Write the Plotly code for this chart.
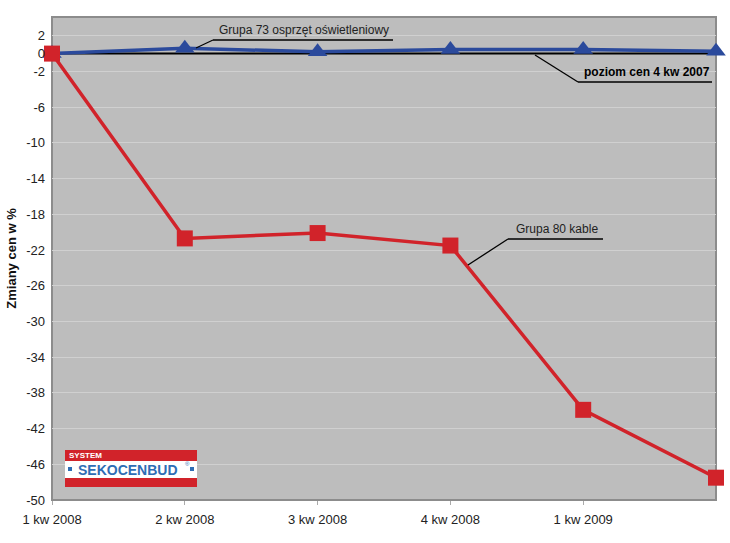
import plotly.graph_objects as go

categories = ["1 kw 2008", "2 kw 2008", "3 kw 2008", "4 kw 2008", "1 kw 2009", "2 kw 2009"]
tick_labels = ["1 kw 2008", "2 kw 2008", "3 kw 2008", "4 kw 2008", "1 kw 2009"]
grupa73 = [0, 0.6, 0.2, 0.45, 0.45, 0.25]
grupa80 = [0, -20.7, -20.1, -21.5, -39.9, -47.5]
poziom = [0, 0, 0, 0, 0, 0]
y_ticks = [2, 0] + list(range(-2, -51, -4))

W, H = 730, 543
L, R, T, B = 52, 14, 17, 43
PW, PH = W - L - R, H - T - B

def px(x):
    return (x - L) / PW

def py(y):
    return (H - B - y) / PH

xs = list(range(len(categories)))
FONT = "Liberation Sans, Arial, sans-serif"

fig = go.Figure()
fig.add_trace(go.Scatter(x=xs, y=poziom, mode="lines",
                         line=dict(color="black", width=2), hoverinfo="skip", showlegend=False))
fig.add_trace(go.Scatter(x=xs, y=grupa73, mode="lines+markers", name="Grupa 73",
                         line=dict(color="#2b4a9c", width=3.5),
                         marker=dict(symbol="triangle-up", size=17, color="#2b4a9c"),
                         showlegend=False, cliponaxis=False))
fig.add_trace(go.Scatter(x=xs, y=grupa80, mode="lines+markers", name="Grupa 80",
                         line=dict(color="#d1232a", width=3.5),
                         marker=dict(symbol="square", size=16, color="#d1232a"),
                         showlegend=False, cliponaxis=False))

shapes = []
shapes.append(dict(type="rect", xref="paper", yref="paper", x0=0, x1=1, y0=0, y1=1,
                   line=dict(color="#8c8c8c", width=2), layer="below"))

def seg(x0, y0, x1, y1, w=1.3):
    shapes.append(dict(type="line", xref="paper", yref="paper",
                       x0=px(x0), y0=py(y0), x1=px(x1), y1=py(y1),
                       line=dict(color="black", width=w)))
seg(196, 48, 213, 40)
seg(213, 40, 393, 40)
seg(535, 55, 578, 82)
seg(578, 82, 712, 82)
seg(468, 265, 508, 239)
seg(508, 239, 603, 239)

def rect(x0, y0, x1, y1, color):
    shapes.append(dict(type="rect", xref="paper", yref="paper",
                       x0=px(x0), y0=py(y1), x1=px(x1), y1=py(y0),
                       fillcolor=color, line=dict(width=0)))
rect(65, 450, 197, 487, "#d1232a")
rect(65, 461, 197, 478, "white")
rect(68, 467, 72, 471, "#2e6db5")
rect(190, 467, 194, 471, "#2e6db5")

annotations = [
    dict(x=px(217), y=py(39), xref="paper", yref="paper", xanchor="left", yanchor="bottom",
         text="Grupa 73 osprzęt oświetleniowy", showarrow=False,
         font=dict(size=12, color="#222", family=FONT)),
    dict(x=px(582), y=py(81), xref="paper", yref="paper", xanchor="left", yanchor="bottom",
         text="<b>poziom cen 4 kw 2007</b>", showarrow=False,
         font=dict(size=12, color="black", family=FONT)),
    dict(x=px(514), y=py(238), xref="paper", yref="paper", xanchor="left", yanchor="bottom",
         text="Grupa 80 kable", showarrow=False,
         font=dict(size=12, color="#222", family=FONT)),
    dict(x=px(67), y=py(455.5), xref="paper", yref="paper", xanchor="left", yanchor="middle",
         text="<b>SYSTEM</b>", showarrow=False,
         font=dict(size=8, color="white", family=FONT)),
    dict(x=px(128), y=py(470), xref="paper", yref="paper", xanchor="center", yanchor="middle",
         text="<b>SEKOCENBUD</b>", showarrow=False,
         font=dict(size=14, color="#2e6db5", family=FONT)),
    dict(x=px(183), y=py(464), xref="paper", yref="paper", xanchor="left", yanchor="middle",
         text="®", showarrow=False,
         font=dict(size=6, color="#2e6db5", family=FONT)),
]

fig.update_layout(
    width=W, height=H,
    margin=dict(l=L, r=R, t=T, b=B, pad=0),
    paper_bgcolor="white", plot_bgcolor="#bdbdbd",
    font=dict(family=FONT, size=13, color="#222"),
    shapes=shapes, annotations=annotations,
    xaxis=dict(range=[0, 5], tickvals=xs[:5], ticktext=tick_labels, showgrid=False,
               zeroline=False, ticks="outside", ticklen=4, tickcolor="#aaa",
               tickfont=dict(size=13, color="#222"), showline=False, ticklabelstandoff=3),
    yaxis=dict(range=[-50, 4.1], tickvals=y_ticks, ticktext=[str(v) for v in y_ticks],
               showgrid=True, gridcolor="#d0d0d0", gridwidth=1, zeroline=False,
               tickfont=dict(size=13, color="#222"), ticks="", ticklabelstandoff=6,
               title=dict(text="<b>Zmiany cen w %</b>", font=dict(size=13, color="#111"),
                          standoff=6)),
)

fig.write_html("out.html")
